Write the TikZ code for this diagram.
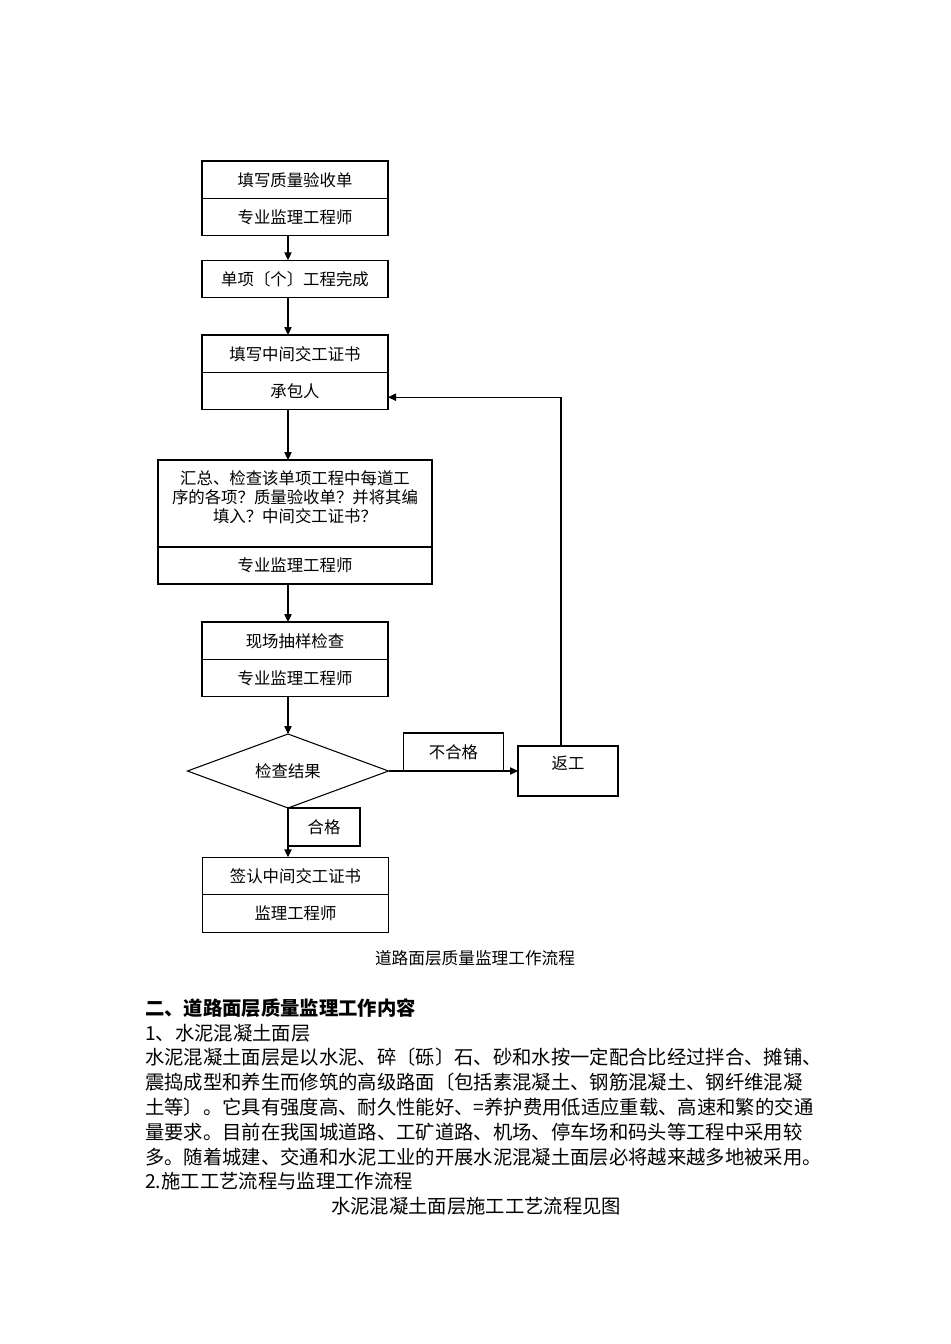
\documentclass[tikz,border=0pt]{standalone}
\usepackage{fontspec}
\setmainfont{Noto Sans CJK SC}
\usetikzlibrary{arrows.meta,shapes.geometric,calc,positioning}
\newcommand\boxfont{\fontsize{12.3pt}{14.3pt}\selectfont}
\newcommand\bodyfont{\fontsize{14.5pt}{18.75pt}\selectfont}

\begin{document}
\begin{tikzpicture}[x=0.75pt,y=-0.75pt,
    box/.style={draw,line width=0.8pt,minimum width=139.5pt,minimum height=28.1pt,inner sep=0pt,outer sep=0pt,font=\boxfont},
    arr/.style={line width=0.8pt,-{Triangle[length=6pt,width=5.5pt]}},
    txt/.style={inner sep=0pt,anchor=west,font=\bodyfont}]
    \useasboundingbox (0,0) rectangle (950,1344);
    \coordinate (spine) at (288,0);

    % Flow boxes
    \node[box] (form) at (295,179.75) {填写质量验收单};
    \node[box,below=0pt of form] (formby) {专业监理工程师};
    \node[box] (unit) at (295,279) {单项〔个〕工程完成};
    \node[box] (cert) at (295,353.75) {填写中间交工证书};
    \node[box,below=0pt of cert] (contractor) {承包人};
    \node[box,minimum width=205.5pt,minimum height=65.25pt] (summary) at (295,503.5) {};
    \node[inner sep=0pt,align=center,font=\boxfont] (summarytxt) at ($(summary.center)+(0,-6)$)
        {汇总、检查该单项工程中每道工\\序的各项？质量验收单？并将其编\\填入？中间交工证书？};
    \node[box,minimum width=205.5pt,minimum height=27.75pt,below=0pt of summary] (summaryby) {专业监理工程师};
    \node[box] (sample) at (295,640.75) {现场抽样检查};
    \node[box,below=0pt of sample] (sampleby) {专业监理工程师};
    \node[diamond,draw,line width=0.8pt,shape aspect=2.7,minimum width=150.75pt,minimum height=55.5pt,inner sep=0pt,outer sep=0pt,font=\boxfont] (check) at (288,771) {检查结果};
    \node[box] (sign) at (295.5,876) {签认中间交工证书};
    \node[box,below=0pt of sign] (signby) {监理工程师};

    % Branch labels and rework
    \node[box,minimum width=75pt,minimum height=28.5pt,anchor=south west] (fail) at ($(check.east)+(15,0)$) {不合格};
    \node[box,minimum width=54pt,minimum height=28.5pt,anchor=north west] (pass) at (check.south) {合格};
    \node[box,minimum width=75pt,minimum height=37.5pt,anchor=west] (rework) at (518,771) {};
    \node[inner sep=0pt,font=\boxfont] (reworktxt) at ($(rework.center)+(0,-8)$) {返工};

    % Connectors
    \draw[arr] (spine |- formby.south) -- (spine |- unit.north);
    \draw[arr] (spine |- unit.south) -- (spine |- cert.north);
    \draw[arr] (spine |- contractor.south) -- (spine |- summary.north);
    \draw[arr] (spine |- summaryby.south) -- (spine |- sample.north);
    \draw[arr] (spine |- sampleby.south) -- (check.north);
    \draw[arr] (check.east) -- (rework.west);
    \draw[arr] (check.south) -- (spine |- sign.north);
    \draw[arr] ($(rework.north)+(-7,0)$) |- ($(contractor.east)+(0,6)$);

    % Caption and body text
    \node[inner sep=0pt,font=\fontsize{12.5pt}{15pt}\selectfont] (caption) at (475,958) {道路面层质量监理工作流程};
    \node[txt,font=\bodyfont\bfseries] (heading) at (145,1008) {二、道路面层质量监理工作内容};
    \node[txt] (sub1) at (145,1033) {1、水泥混凝土面层};
    \foreach \t [count=\i] in {
        {水泥混凝土面层是以水泥、碎〔砾〕石、砂和水按一定配合比经过拌合、摊铺、},
        {震捣成型和养生而修筑的高级路面〔包括素混凝土、钢筋混凝土、钢纤维混凝},
        {土等〕。它具有强度高、耐久性能好、=养护费用低适应重载、高速和繁的交通},
        {量要求。目前在我国城道路、工矿道路、机场、停车场和码头等工程中采用较},
        {多。随着城建、交通和水泥工业的开展水泥混凝土面层必将越来越多地被采用。}}
        \node[txt] (para\i) at (145,1032+25*\i) {\t};
    \node[txt] (sub2) at (145,1181) {2.施工工艺流程与监理工作流程};
    \node[inner sep=0pt,font=\bodyfont] (seefig) at (476,1206) {水泥混凝土面层施工工艺流程见图};
\end{tikzpicture}
\end{document}
